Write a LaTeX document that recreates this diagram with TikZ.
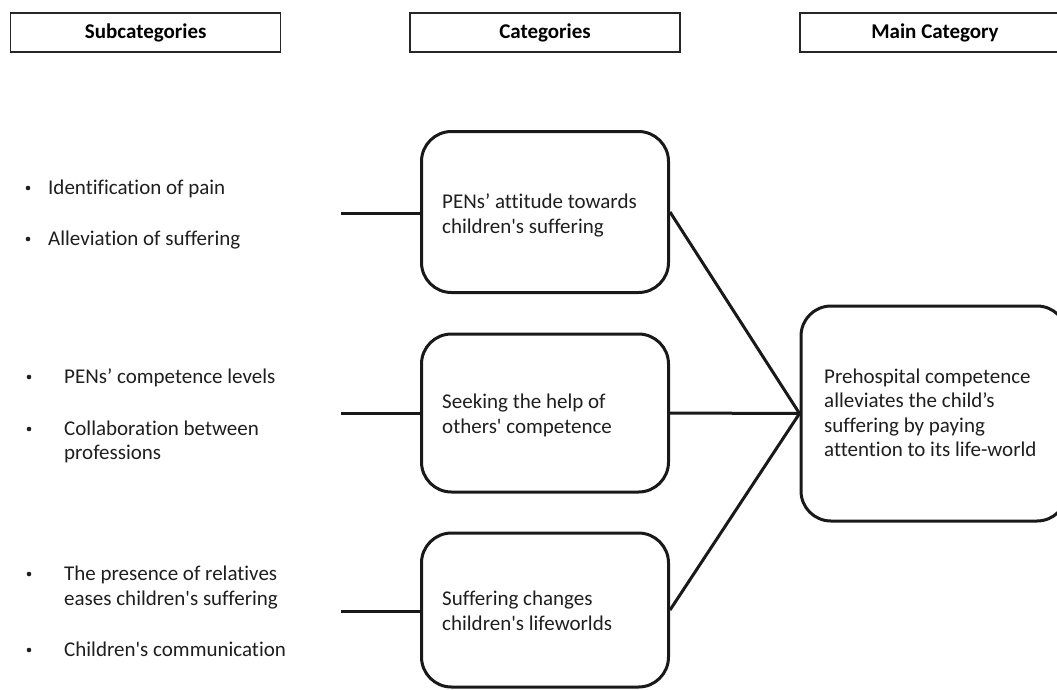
\documentclass[tikz,border=0pt]{standalone}
\usepackage{fontspec}
\newfontfamily\carl{Carlito}[Ligatures={NoCommon}]
\begin{document}
\begin{tikzpicture}[x=1pt,y=-1pt,
  hdr/.style={draw=black!85, line width=1.2pt, minimum width=270pt, minimum height=39pt,
    font=\carl\bfseries\fontsize{21}{25}\selectfont, text height=14pt, text depth=2pt, inner sep=0pt},
  cat/.style={draw=black!90, line width=3pt, rounded corners=30pt, inner sep=0pt, minimum width=247pt},
  txt/.style={anchor=base west, inner sep=0pt, font=\carl\fontsize{21}{25}\selectfont, text=black!88},
  bul/.style={circle, fill=black!88, inner sep=0pt, minimum size=4.6pt},
  conn/.style={line width=3pt, draw=black!90}]
\useasboundingbox (0,0) rectangle (1057,689);
\clip (0,0) rectangle (1057,689);
\fill[white] (0,0) rectangle (1057,689);

% header boxes
\node[hdr] (h1) at (145.7,32.5) {Subcategories};
\node[hdr] (h2) at (545,32.5) {Categories};
\node[hdr] (h3) at (935,32.5) {Main Category};

% category boxes
\node[cat, minimum height=161pt] (A) at (545,212) {};
\node[cat, minimum height=158pt] (B) at (545,413) {};
\node[cat, minimum height=154pt] (C) at (545,610) {};
\node[cat, minimum width=266pt, minimum height=215pt] (M) at (934,413.5) {};

% texts in category boxes
\node[txt] (a1) at (442,208) {PENs’ attitude towards};
\node[txt] (a2) at (442,233) {children's suffering};
\node[txt] (b1) at (442,408.5) {Seeking the help of};
\node[txt] (b2) at (442,433) {others' competence};
\node[txt] (c1) at (442,605.5) {Suffering changes};
\node[txt] (c2) at (442,630) {children's lifeworlds};
\node[txt] (m1) at (824,383) {Prehospital competence};
\node[txt] (m2) at (824,407.5) {alleviates the child’s};
\node[txt] (m3) at (824,432) {suffering by paying};
\node[txt] (m4) at (824,456.5) {attention to its life-world};

% subcategory lists
\node[bul] (d1) at (28,188) {};
\node[txt] (s1) at (48,194) {Identification of pain};
\node[bul] (d2) at (28,239) {};
\node[txt] (s2) at (48,245) {Alleviation of suffering};

\node[bul] (d3) at (29,377) {};
\node[txt] (s3) at (64,383) {PENs’ competence levels};
\node[bul] (d4) at (29,429) {};
\node[txt] (s4) at (64,435) {Collaboration between};
\node[txt] (s5) at (64,459) {professions};

\node[bul] (d5) at (29,574) {};
\node[txt] (s6) at (64,580) {The presence of relatives};
\node[txt] (s7) at (64,605) {eases children's suffering};
\node[bul] (d6) at (29,650) {};
\node[txt] (s8) at (64,656) {Children's communication};

% connectors
\coordinate (la) at (341,213);
\coordinate (lb) at (341,413);
\coordinate (lc) at (341,611);
\draw[conn] (la) -- (la -| A.west);
\draw[conn] (lb) -- (lb -| B.west);
\draw[conn] (lc) -- (lc -| C.west);
\draw[conn] (A.east) -- (M.west);
\draw[conn] (B.east) -- (M.west);
\draw[conn] (C.east) -- (M.west);
\end{tikzpicture}
\end{document}
